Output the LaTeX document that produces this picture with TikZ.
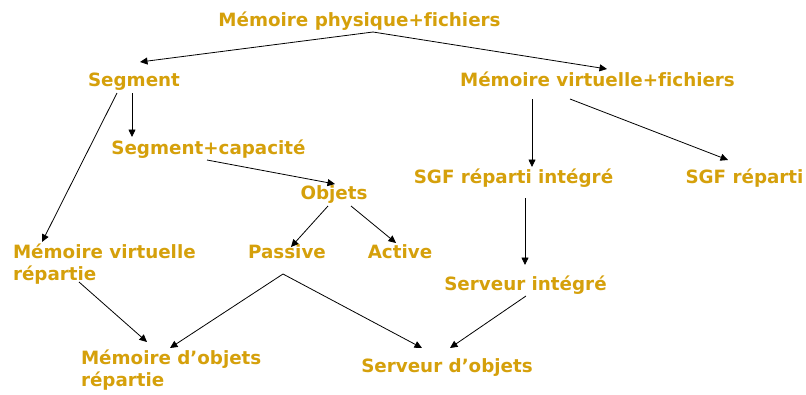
\documentclass[tikz,border=0pt]{standalone}
\usepackage{fontspec}
\usetikzlibrary{arrows.meta,calc}
\newfontfamily\lblfam{DejaVu Sans Bold}[Ligatures=NoCommon]
\definecolor{gold}{RGB}{213,160,11}
\tikzset{
  lbl/.style={text=gold, font={\lblfam\fontsize{18.3}{22.4}\selectfont}, inner sep=0pt, outer sep=0pt},
  arr/.style={draw=black, line width=0.8pt, -{Triangle[length=7.5pt,width=7pt]}}
}
\begin{document}
\begin{tikzpicture}[x=1pt,y=-1pt]
\useasboundingbox (0,0) rectangle (806,394);
\node[lbl,anchor=base] (top) at (359.5,26) {Mémoire physique+fichiers};
\node[lbl,anchor=base] (seg) at (134,86) {Segment};
\node[lbl,anchor=base] (mvf) at (597.5,86) {Mémoire virtuelle+fichiers};
\node[lbl,anchor=base] (segcap) at (208.5,154.3) {Segment+capacité};
\node[lbl,anchor=base] (obj) at (334,199.3) {Objets};
\node[lbl,anchor=base] (sgfi) at (513.5,183.3) {SGF réparti intégré};
\node[lbl,anchor=base] (sgf) at (744.5,183.3) {SGF réparti};
\node[lbl,anchor=base west,align=left] (mvr) at (13,280.7) {Mémoire virtuelle\\répartie};
\node[lbl,anchor=base] (pas) at (287,258.3) {Passive};
\node[lbl,anchor=base] (act) at (400,258.3) {Active};
\node[lbl,anchor=base] (si) at (525.5,290) {Serveur intégré};
\node[lbl,anchor=base west,align=left] (mdo) at (81,386.4) {Mémoire d’objets\\répartie};
\node[lbl,anchor=base] (sdo) at (447,372.7) {Serveur d’objets};

\draw[arr] ([shift={(13.5,6)}]top.base) -- ([shift={(6,-24)}]seg.base);
\draw[arr] ([shift={(13.5,6)}]top.base) -- ([shift={(9.5,-17)}]mvf.base);
\draw[arr] ([shift={(-2,7)}]seg.base) -- ([shift={(-76.5,-17.3)}]segcap.base);
\draw[arr] ([shift={(-17,7)}]seg.base) -- ([shift={(29,-38.7)}]mvr.base west);
\draw[arr] ([shift={(-1.5,5.7)}]segcap.base) -- ([shift={(1,-15.3)}]obj.base);
\draw[arr] ([shift={(-6,6.7)}]obj.base) -- ([shift={(4,-11.3)}]pas.base);
\draw[arr] ([shift={(17,6.7)}]obj.base) -- ([shift={(-4,-15.3)}]act.base);
\draw[arr] ([shift={(-65.5,13)}]mvf.base) -- ([shift={(18.5,-16.3)}]sgfi.base);
\draw[arr] ([shift={(-27.5,13)}]mvf.base) -- ([shift={(-16.5,-23.3)}]sgf.base);
\draw[arr] ([shift={(11.5,14.7)}]sgfi.base) -- ([shift={(-0.5,-25)}]si.base);
\draw[arr] ([shift={(66,1.3)}]mvr.base west) -- ([shift={(66,-44.4)}]mdo.base west);
\draw[arr] ([shift={(-4,15.7)}]pas.base) -- ([shift={(89,-38.4)}]mdo.base west);
\draw[arr] ([shift={(-4,15.7)}]pas.base) -- ([shift={(-25,-24.7)}]sdo.base);
\draw[arr] ([shift={(0.5,6)}]si.base) -- ([shift={(3,-24.7)}]sdo.base);
\end{tikzpicture}
\end{document}
